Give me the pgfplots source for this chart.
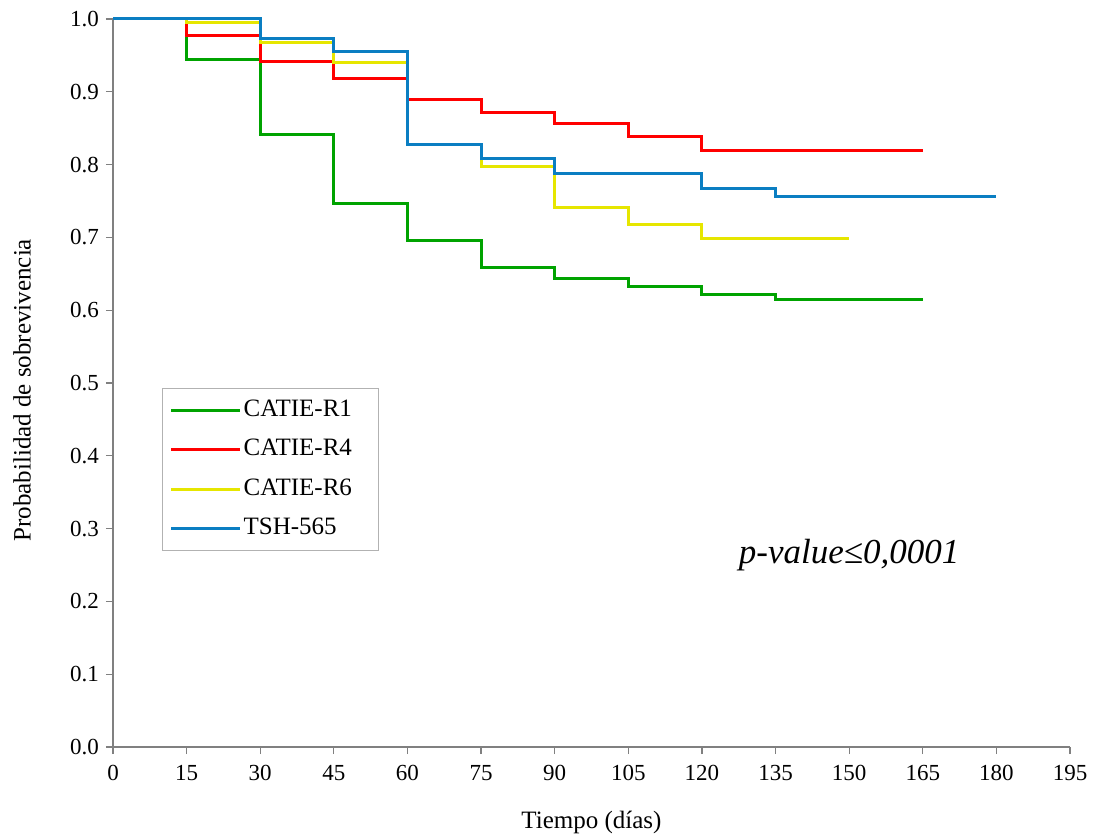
\documentclass[border=0pt]{standalone}
\usepackage{pgfplots}
\pgfplotsset{compat=1.18}
\usepackage{fontspec}
\setmainfont{Liberation Serif}
\definecolor{cgreen}{RGB}{0,163,0}
\definecolor{cred}{RGB}{255,0,0}
\definecolor{cyellow}{RGB}{230,230,0}
\definecolor{cblue}{RGB}{10,126,194}
\begin{document}
\begin{tikzpicture}
\begin{axis}[
  scale only axis,
  width=478.5pt, height=364pt,
  xmin=0, xmax=195, ymin=0, ymax=1,
  axis lines=left,
  axis line style={draw=gray, line width=0.6pt, -},
  tick style={draw=gray, line width=0.6pt},
  tick align=outside,
  major tick length=3.5pt,
  xtick={0,15,...,195},
  ytick={0,0.1,...,1.0},
  yticklabel style={/pgf/number format/.cd, fixed, zerofill, precision=1},
  /pgf/number format/assume math mode=true,
  ticklabel style={font=\fontsize{11.5}{13}\selectfont},
  xticklabel style={yshift=-2pt},
  xlabel={Tiempo (días)},
  ylabel={Probabilidad de sobrevivencia},
  label style={font=\fontsize{12.5}{14}\selectfont},
  xlabel style={at={(axis description cs:0.5,0)}, anchor=center, yshift=-37.5pt},
  ylabel style={at={([xshift=-45.5pt]axis description cs:0,0.49)}, anchor=center},
  legend cell align=left,
  legend style={at={(0.0512,0.269)}, anchor=south west, draw=gray!60, line width=0.6pt,
    font=\fontsize{12.5}{14}\selectfont, inner xsep=3.5pt, inner ysep=5pt,
    nodes={inner ysep=0pt, inner xsep=1pt, text height=9pt, text depth=3pt},
    row sep=7.7pt, column sep=0pt},
  legend image code/.code={\draw[#1] plot coordinates {(0pt,0pt) (34.5pt,0pt)};},
  every axis plot/.append style={line width=1.5pt, const plot},
  clip=false,
]
\addplot[cgreen] coordinates {(0,1)(15,0.944)(30,0.842)(45,0.746)(60,0.696)(75,0.658)(90,0.643)(105,0.633)(120,0.621)(135,0.615)(165,0.615)};
\addlegendentry{\makebox[63pt][l]{CATIE-R1}}
\addplot[cred] coordinates {(0,1)(15,0.978)(30,0.942)(45,0.918)(60,0.889)(75,0.871)(90,0.856)(105,0.838)(120,0.820)(165,0.820)};
\addlegendentry{CATIE-R4}
\addplot[cyellow] coordinates {(0,1)(15,0.995)(30,0.968)(45,0.940)(60,0.828)(75,0.798)(90,0.741)(105,0.718)(120,0.698)(150,0.698)};
\addlegendentry{CATIE-R6}
\addplot[cblue] coordinates {(0,1)(30,0.973)(45,0.955)(60,0.828)(75,0.808)(90,0.788)(120,0.767)(135,0.756)(180,0.756)};
\addlegendentry{TSH-565}
\node[font=\fontsize{17.5}{20}\selectfont\itshape] at (axis cs:150,0.264) {p-value≤0,0001};
\coordinate (sw) at (rel axis cs:0,0);
\coordinate (ne) at (rel axis cs:1,1);
\end{axis}
\pgfresetboundingbox
\path[use as bounding box] ([shift={(-56.5pt,-44.5pt)}]sw) rectangle ([shift={(13.5pt,9.5pt)}]ne);
\end{tikzpicture}
\end{document}
